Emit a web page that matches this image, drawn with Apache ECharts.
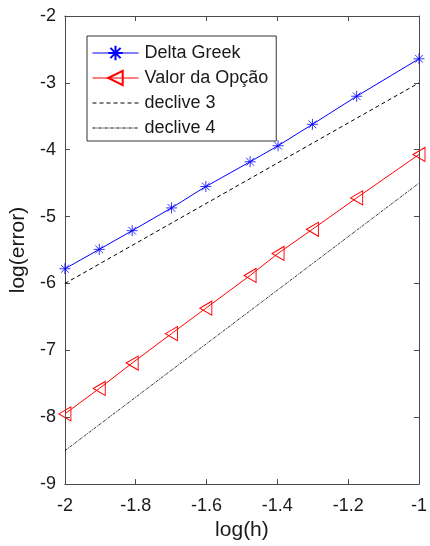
<!DOCTYPE html>
<html>
<head>
<meta charset="utf-8">
<script src="https://cdn.jsdelivr.net/npm/echarts@6/dist/echarts.min.js"></script>
<style>
  html, body { margin: 0; padding: 0; background: #fff; }
  #chart { width: 430px; height: 546px; }
</style>
</head>
<body>
<div id="chart"></div>
<script>
// log10 of the step sizes
const logH = [-2, -1.903, -1.81, -1.699, -1.602, -1.477, -1.398, -1.301, -1.176, -1];
// log10 of the errors
const deltaGreek = [-5.78, -5.49, -5.21, -4.87, -4.55, -4.18, -3.94, -3.62, -3.20, -2.64];
const valorOpcao = [-7.95, -7.57, -7.19, -6.75, -6.37, -5.88, -5.55, -5.19, -4.72, -4.07];
// reference slope lines (endpoints)
const slopeX = [-2, -1];
const slope3 = [-6, -3];
const slope4 = [-8.5, -4.5];

const seriesNames = ['Delta Greek', 'Valor da Opção', 'declive 3', 'declive 4'];

const xTicks = { min: -2, max: -1, interval: 0.2 };
const yTicks = { min: -9, max: -2, interval: 1 };

const pairs = (xs, ys) => xs.map((x, i) => [x, ys[i]]);

const FONT = "'Liberation Sans', Arial, Helvetica, sans-serif";
const AXIS_COLOR = '#4a4a4a';
const TEXT_COLOR = '#1a1a1a';

const asterisk = 'path://M5,0 L5,10 M0,5 L10,5 M1.46,1.46 L8.54,8.54 M1.46,8.54 L8.54,1.46';

function axisBase(extra) {
  return Object.assign({
    type: 'value',
    axisLine: { show: true, onZero: false, lineStyle: { color: AXIS_COLOR, width: 1 } },
    axisTick: { show: true, inside: true, length: 5, lineStyle: { color: AXIS_COLOR } },
    splitLine: { show: false },
    axisLabel: { show: false }
  }, extra);
}

const chart = echarts.init(document.getElementById('chart'), null, { renderer: 'canvas' });

chart.setOption({
  backgroundColor: '#fff',
  animation: false,
  textStyle: { fontFamily: FONT },
  grid: { left: 64, right: 10, top: 16, bottom: 61, containLabel: false },
  xAxis: [
    axisBase(Object.assign({}, xTicks, {
      position: 'bottom',
      name: 'log(h)',
      nameLocation: 'middle',
      nameGap: 31,
      nameTextStyle: { fontSize: 21, color: TEXT_COLOR, fontFamily: FONT },
      axisLabel: {
        show: true, margin: 13, fontSize: 18, color: TEXT_COLOR, fontFamily: FONT,
        formatter: v => String(+v.toFixed(1))
      }
    })),
    axisBase(Object.assign({}, xTicks, { position: 'top' }))
  ],
  yAxis: [
    axisBase(Object.assign({}, yTicks, {
      position: 'left',
      name: 'log(error)',
      nameLocation: 'middle',
      nameGap: 31,
      nameRotate: 90,
      nameTextStyle: { fontSize: 21, color: TEXT_COLOR, fontFamily: FONT },
      axisLabel: {
        show: true, margin: 9, fontSize: 18, color: TEXT_COLOR, fontFamily: FONT,
        formatter: v => String(Math.round(v))
      }
    })),
    axisBase(Object.assign({}, yTicks, { position: 'right' }))
  ],
  legend: {
    data: seriesNames,
    orient: 'vertical',
    left: 87,
    top: 36,
    padding: [8, 8, 4, 5],
    itemWidth: 46,
    itemHeight: 18,
    itemGap: 7,
    backgroundColor: '#fff',
    borderColor: '#333',
    borderWidth: 1,
    borderRadius: 0,
    lineStyle: { width: 1 },
    textStyle: { fontSize: 18, color: TEXT_COLOR, fontFamily: FONT, padding: [0, 0, 0, 1] }
  },
  series: [
    {
      name: seriesNames[0],
      type: 'line',
      data: pairs(logH, deltaGreek),
      symbol: asterisk,
      symbolSize: 11,
      lineStyle: { color: '#0000ff', width: 1 },
      itemStyle: { color: '#0000ff', borderColor: '#0000ff', borderWidth: 0.8 },
      z: 5
    },
    {
      name: seriesNames[1],
      type: 'line',
      data: pairs(logH, valorOpcao),
      symbol: 'triangle',
      symbolRotate: 90,
      symbolSize: [14, 12],
      lineStyle: { color: '#ff0000', width: 1 },
      itemStyle: { color: 'rgba(0,0,0,0)', borderColor: '#ff0000', borderWidth: 1 },
      z: 5
    },
    {
      name: seriesNames[2],
      type: 'line',
      data: pairs(slopeX, slope3),
      symbol: 'none',
      lineStyle: { color: '#000', width: 1, type: [4, 3] },
      itemStyle: { color: '#000', opacity: 0 },
      z: 4
    },
    {
      name: seriesNames[3],
      type: 'line',
      data: pairs(slopeX, slope4),
      symbol: 'none',
      lineStyle: { color: '#000', width: 0.8, type: [3, 1, 1, 1] },
      itemStyle: { color: '#000', opacity: 0 },
      z: 4
    }
  ]
});
</script>
</body>
</html>
